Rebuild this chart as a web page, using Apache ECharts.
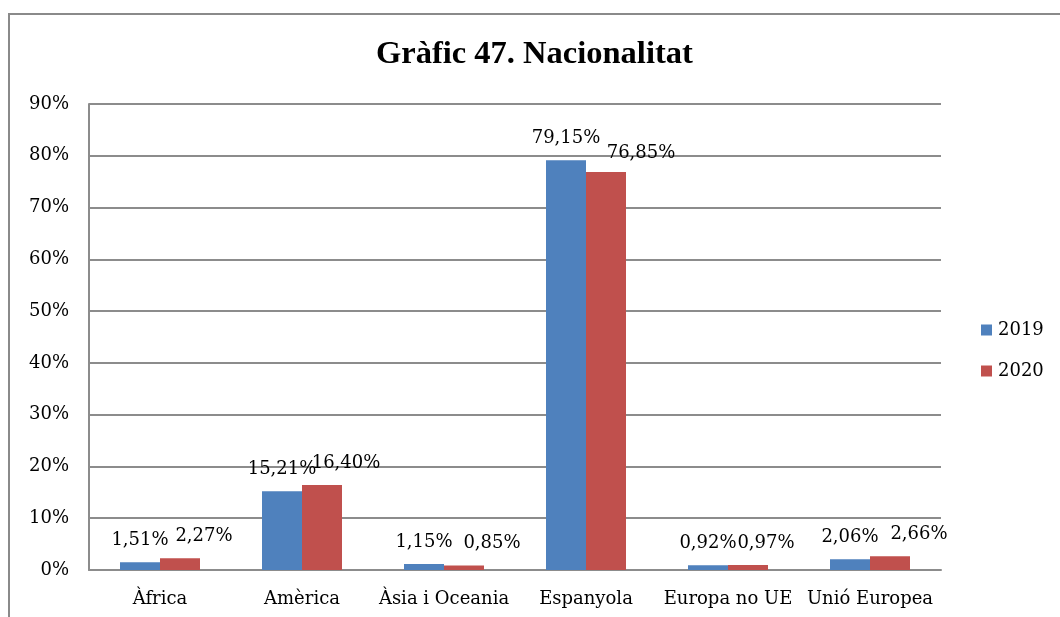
<!DOCTYPE html>
<html>
<head>
<meta charset="utf-8">
<title>Gràfic 47. Nacionalitat</title>
<script src="https://cdn.jsdelivr.net/npm/echarts@6/dist/echarts.min.js"></script>
<style>
  html, body { margin: 0; padding: 0; background: #fff; }
  #chart { width: 1060px; height: 617px; }
</style>
</head>
<body>
<div id="chart"></div>
<script>
// Nationality breakdown, share of total (%)
const categories = ['Àfrica', 'Amèrica', 'Àsia i Oceania', 'Espanyola', 'Europa no UE', 'Unió Europea'];
const values2019 = [1.51, 15.21, 1.15, 79.15, 0.92, 2.06];
const values2020 = [2.27, 16.40, 0.85, 76.85, 0.97, 2.66];
const seriesNames = ['2019', '2020'];
const yTicks = { min: 0, max: 90, step: 10 };

// label placement tweaks for the 2020 value labels (pixels, [dx, dy])
const labelShift2020 = [[24, 0], [24, 0], [28, 0], [35, 3], [18, 0], [29, 0]];

const labelFont = 'DejaVu Serif';
const gridColor = '#8c8c8c';
const fmtPct = v => v.toFixed(2).replace('.', ',') + '%';

const chart = echarts.init(document.getElementById('chart'), null, { renderer: 'canvas' });

chart.setOption({
  backgroundColor: '#ffffff',
  animation: false,
  title: {
    text: 'Gràfic 47. Nacionalitat',
    left: 376,
    top: 38,
    padding: 0,
    textStyle: {
      fontFamily: 'Liberation Serif',
      fontWeight: 'bold',
      fontSize: 32.5,
      color: '#000'
    }
  },
  graphic: [{
    type: 'rect',
    silent: true,
    z: -1,
    shape: { x: 9, y: 14, width: 1200, height: 800 },
    style: { fill: 'none', stroke: '#8a8a8a', lineWidth: 2 }
  }],
  legend: {
    orient: 'vertical',
    left: 981,
    top: 321,
    padding: 0,
    itemWidth: 11,
    itemHeight: 11,
    itemGap: 23,
    icon: 'rect',
    textStyle: { fontFamily: labelFont, fontSize: 18, color: '#000', padding: [0, 0, 0, 1] },
    data: seriesNames
  },
  grid: { left: 89, top: 104, right: 119, bottom: 47 },
  xAxis: {
    type: 'category',
    data: categories,
    axisLine: { show: true, lineStyle: { color: gridColor, width: 2 } },
    axisTick: { show: false },
    axisLabel: { fontFamily: labelFont, fontSize: 18, color: '#000', margin: 20, interval: 0 }
  },
  yAxis: {
    type: 'value',
    min: yTicks.min,
    max: yTicks.max,
    interval: yTicks.step,
    axisLine: { show: true, lineStyle: { color: gridColor, width: 2 } },
    axisTick: { show: false },
    splitLine: { show: true, lineStyle: { color: gridColor, width: 2 } },
    axisLabel: {
      fontFamily: labelFont, fontSize: 18, color: '#000', margin: 20,
      formatter: v => v + '%'
    }
  },
  series: [
    {
      name: seriesNames[0],
      type: 'bar',
      data: values2019,
      barWidth: 40,
      barGap: '0%',
      itemStyle: { color: '#4f81bd' },
      label: {
        show: true, position: 'top', distance: 13,
        fontFamily: labelFont, fontSize: 18, color: '#000',
        formatter: p => fmtPct(p.value)
      }
    },
    {
      name: seriesNames[1],
      type: 'bar',
      data: values2020.map((v, i) => ({ value: v, label: { offset: labelShift2020[i] } })),
      barWidth: 40,
      barGap: '0%',
      itemStyle: { color: '#c0504d' },
      label: {
        show: true, position: 'top', distance: 13,
        fontFamily: labelFont, fontSize: 18, color: '#000',
        formatter: p => fmtPct(p.value)
      }
    }
  ]
});
</script>
</body>
</html>
